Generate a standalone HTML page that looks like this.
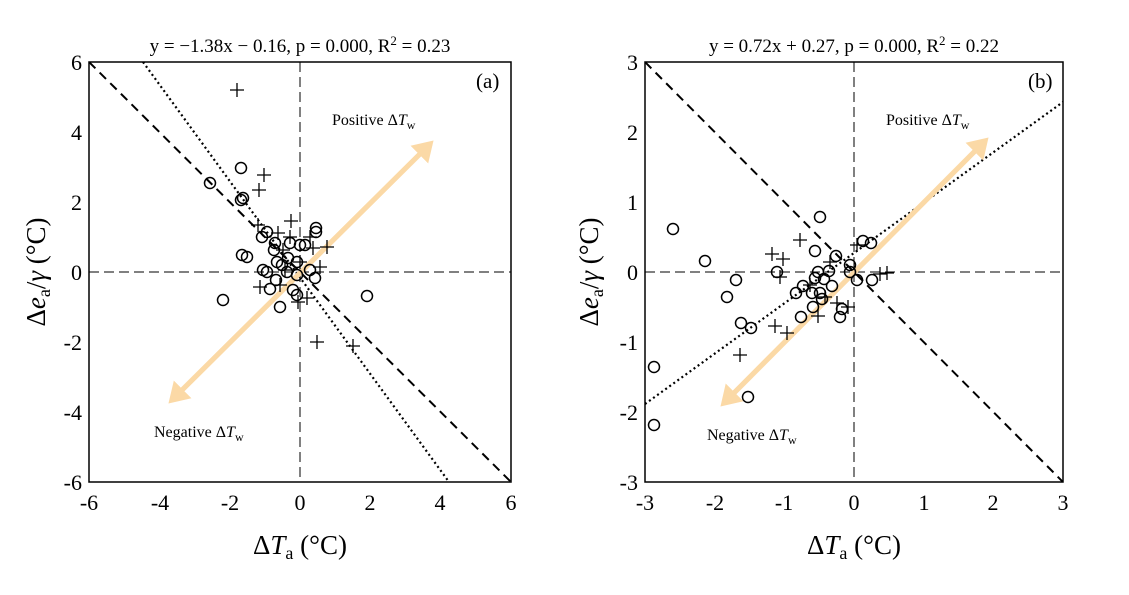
<!DOCTYPE html><html><head><style>body{margin:0;background:#fff}svg text{font-family:"Liberation Serif",serif}</style></head><body>
<svg width="1129" height="590" viewBox="0 0 1129 590" xmlns="http://www.w3.org/2000/svg">
<defs>
<marker id="ah" markerWidth="5" markerHeight="5" refX="3" refY="2.5" orient="auto" markerUnits="strokeWidth"><path d="M0,0 L4,2.5 L0,5 Z" fill="#fbd9a6"/></marker>
<clipPath id="ca"><rect x="89" y="62" width="422" height="420"/></clipPath>
<clipPath id="cb"><rect x="645" y="62" width="418" height="420"/></clipPath>
<g id="c"><circle r="5.5" fill="none" stroke="#000" stroke-width="1.5"/></g>
<g id="p"><path d="M-7,0H7M0,-7V7" stroke="#000" stroke-width="1.3"/></g>
</defs>
<!-- Panel a -->
<g clip-path="url(#ca)">
<line x1="300" y1="62" x2="300" y2="482" stroke="#000" stroke-dasharray="10,5" stroke-width="1"/>
<line x1="89" y1="272" x2="511" y2="272" stroke="#000" stroke-dasharray="10,5" stroke-width="1"/>
<line x1="89" y1="62" x2="511" y2="482" stroke="#000" stroke-dasharray="9,6" stroke-width="2"/>
<line x1="143" y1="62" x2="449" y2="482" stroke="#000" stroke-dasharray="2,3" stroke-width="2.2"/>
<line x1="172" y1="400" x2="430" y2="144" stroke="#fbd9a6" stroke-width="5" marker-end="url(#ah)"/>
<line x1="430" y1="144" x2="172" y2="400" stroke="#fbd9a6" stroke-width="5" marker-end="url(#ah)"/>
<g>
<use href="#c" x="210" y="183"/><use href="#c" x="241" y="168"/><use href="#c" x="243" y="198"/><use href="#c" x="241" y="200"/>
<use href="#c" x="267" y="232"/><use href="#c" x="262" y="237"/><use href="#c" x="316" y="228"/><use href="#c" x="316" y="232"/>
<use href="#c" x="275" y="243"/><use href="#c" x="274" y="250"/><use href="#c" x="290" y="243"/><use href="#c" x="300" y="245"/>
<use href="#c" x="305" y="245"/><use href="#c" x="242" y="255"/><use href="#c" x="247" y="257"/><use href="#c" x="277" y="262"/>
<use href="#c" x="288" y="258"/><use href="#c" x="297" y="262"/><use href="#c" x="263" y="270"/><use href="#c" x="267" y="272"/>
<use href="#c" x="276" y="280"/><use href="#c" x="287" y="272"/><use href="#c" x="297" y="275"/><use href="#c" x="310" y="270"/>
<use href="#c" x="315" y="278"/><use href="#c" x="270" y="289"/><use href="#c" x="293" y="290"/><use href="#c" x="297" y="295"/>
<use href="#c" x="280" y="307"/><use href="#c" x="223" y="300"/><use href="#c" x="367" y="296"/><use href="#c" x="282" y="265"/>
<use href="#p" x="237" y="90"/><use href="#p" x="264" y="175"/><use href="#p" x="259" y="190"/><use href="#p" x="258" y="225"/>
<use href="#p" x="291" y="221"/><use href="#p" x="278" y="233"/><use href="#p" x="290" y="237"/><use href="#p" x="310" y="237"/>
<use href="#p" x="327" y="247"/><use href="#p" x="313" y="248"/><use href="#p" x="283" y="250"/><use href="#p" x="300" y="262"/>
<use href="#p" x="320" y="267"/><use href="#p" x="285" y="270"/><use href="#p" x="280" y="285"/><use href="#p" x="260" y="287"/>
<use href="#p" x="307" y="298"/><use href="#p" x="298" y="302"/><use href="#p" x="317" y="342"/><use href="#p" x="353" y="346"/>
</g>
</g>
<rect x="89" y="62" width="422" height="420" fill="none" stroke="#000" stroke-width="1.5"/>
<text x="300" y="52" font-size="19" text-anchor="middle">y = −1.38x − 0.16,  p = 0.000,  R<tspan dy="-7" font-size="13">2</tspan><tspan dy="7"> =  0.23</tspan></text>
<text x="476" y="88" font-size="21">(a)</text>
<text x="332" y="125" font-size="16">Positive Δ<tspan font-style="italic">T</tspan><tspan font-size="12" dy="4">w</tspan></text>
<text x="154" y="437" font-size="16">Negative Δ<tspan font-style="italic">T</tspan><tspan font-size="12" dy="4">w</tspan></text>
<g font-size="22" text-anchor="middle">
<text x="89" y="510">-6</text><text x="160" y="510">-4</text><text x="230" y="510">-2</text><text x="300" y="510">0</text><text x="370" y="510">2</text><text x="440" y="510">4</text><text x="511" y="510">6</text>
</g>
<g font-size="22" text-anchor="end">
<text x="82" y="70">6</text><text x="82" y="140">4</text><text x="82" y="210">2</text><text x="82" y="280">0</text><text x="82" y="350">-2</text><text x="82" y="420">-4</text><text x="82" y="490">-6</text>
</g>
<text x="300" y="554" font-size="27" text-anchor="middle">Δ<tspan font-style="italic">T</tspan><tspan font-size="18" dy="5">a</tspan><tspan dy="-5"> (°C)</tspan></text>
<text transform="translate(45,272) rotate(-90)" font-size="27" text-anchor="middle">Δ<tspan font-style="italic">e</tspan><tspan font-size="18" dy="5">a</tspan><tspan dy="-5">/</tspan><tspan font-style="italic">γ</tspan> (°C)</text>
<!-- Panel b -->
<g clip-path="url(#cb)">
<line x1="854" y1="62" x2="854" y2="482" stroke="#000" stroke-dasharray="10,5" stroke-width="1"/>
<line x1="645" y1="272" x2="1063" y2="272" stroke="#000" stroke-dasharray="10,5" stroke-width="1"/>
<line x1="645" y1="62" x2="1063" y2="482" stroke="#000" stroke-dasharray="9,6" stroke-width="2"/>
<line x1="645" y1="404" x2="1063" y2="102" stroke="#000" stroke-dasharray="2,3" stroke-width="2.2"/>
<line x1="724" y1="403" x2="985" y2="141" stroke="#fbd9a6" stroke-width="5" marker-end="url(#ah)"/>
<line x1="985" y1="141" x2="724" y2="403" stroke="#fbd9a6" stroke-width="5" marker-end="url(#ah)"/>
<g>
<use href="#c" x="820" y="217"/><use href="#c" x="815" y="251"/><use href="#c" x="705" y="261"/><use href="#c" x="736" y="280"/>
<use href="#c" x="727" y="297"/><use href="#c" x="777" y="272"/><use href="#c" x="863" y="241"/><use href="#c" x="871" y="243"/>
<use href="#c" x="836" y="256"/><use href="#c" x="850" y="265"/><use href="#c" x="850" y="272"/><use href="#c" x="818" y="272"/>
<use href="#c" x="829" y="271"/><use href="#c" x="824" y="279"/><use href="#c" x="815" y="278"/><use href="#c" x="857" y="280"/>
<use href="#c" x="872" y="280"/><use href="#c" x="832" y="286"/><use href="#c" x="803" y="286"/><use href="#c" x="796" y="293"/>
<use href="#c" x="812" y="293"/><use href="#c" x="820" y="293"/><use href="#c" x="822" y="299"/><use href="#c" x="813" y="307"/>
<use href="#c" x="801" y="317"/><use href="#c" x="842" y="309"/><use href="#c" x="840" y="317"/><use href="#c" x="741" y="323"/>
<use href="#c" x="751" y="328"/><use href="#c" x="673" y="229"/><use href="#c" x="654" y="367"/><use href="#c" x="654" y="425"/><use href="#c" x="748" y="397"/>
<use href="#p" x="800" y="240"/><use href="#p" x="772" y="254"/><use href="#p" x="783" y="259"/><use href="#p" x="780" y="277"/>
<use href="#p" x="830" y="262"/><use href="#p" x="857" y="245"/><use href="#p" x="810" y="285"/><use href="#p" x="825" y="297"/>
<use href="#p" x="837" y="303"/><use href="#p" x="848" y="307"/><use href="#p" x="818" y="316"/><use href="#p" x="775" y="326"/>
<use href="#p" x="787" y="333"/><use href="#p" x="740" y="355"/><use href="#p" x="880" y="274"/><use href="#p" x="887" y="273"/>
</g>
</g>
<rect x="645" y="62" width="418" height="420" fill="none" stroke="#000" stroke-width="1.5"/>
<text x="854" y="52" font-size="19" text-anchor="middle">y = 0.72x + 0.27,  p = 0.000,  R<tspan dy="-7" font-size="13">2</tspan><tspan dy="7"> =  0.22</tspan></text>
<text x="1028" y="88" font-size="21">(b)</text>
<text x="886" y="125" font-size="16">Positive Δ<tspan font-style="italic">T</tspan><tspan font-size="12" dy="4">w</tspan></text>
<text x="707" y="440" font-size="16">Negative Δ<tspan font-style="italic">T</tspan><tspan font-size="12" dy="4">w</tspan></text>
<g font-size="22" text-anchor="middle">
<text x="645" y="510">-3</text><text x="715" y="510">-2</text><text x="784" y="510">-1</text><text x="854" y="510">0</text><text x="924" y="510">1</text><text x="993" y="510">2</text><text x="1063" y="510">3</text>
</g>
<g font-size="22" text-anchor="end">
<text x="638" y="70">3</text><text x="638" y="140">2</text><text x="638" y="210">1</text><text x="638" y="280">0</text><text x="638" y="350">-1</text><text x="638" y="420">-2</text><text x="638" y="490">-3</text>
</g>
<text x="854" y="554" font-size="27" text-anchor="middle">Δ<tspan font-style="italic">T</tspan><tspan font-size="18" dy="5">a</tspan><tspan dy="-5"> (°C)</tspan></text>
<text transform="translate(598,272) rotate(-90)" font-size="27" text-anchor="middle">Δ<tspan font-style="italic">e</tspan><tspan font-size="18" dy="5">a</tspan><tspan dy="-5">/</tspan><tspan font-style="italic">γ</tspan> (°C)</text>
</svg>
</body></html>
